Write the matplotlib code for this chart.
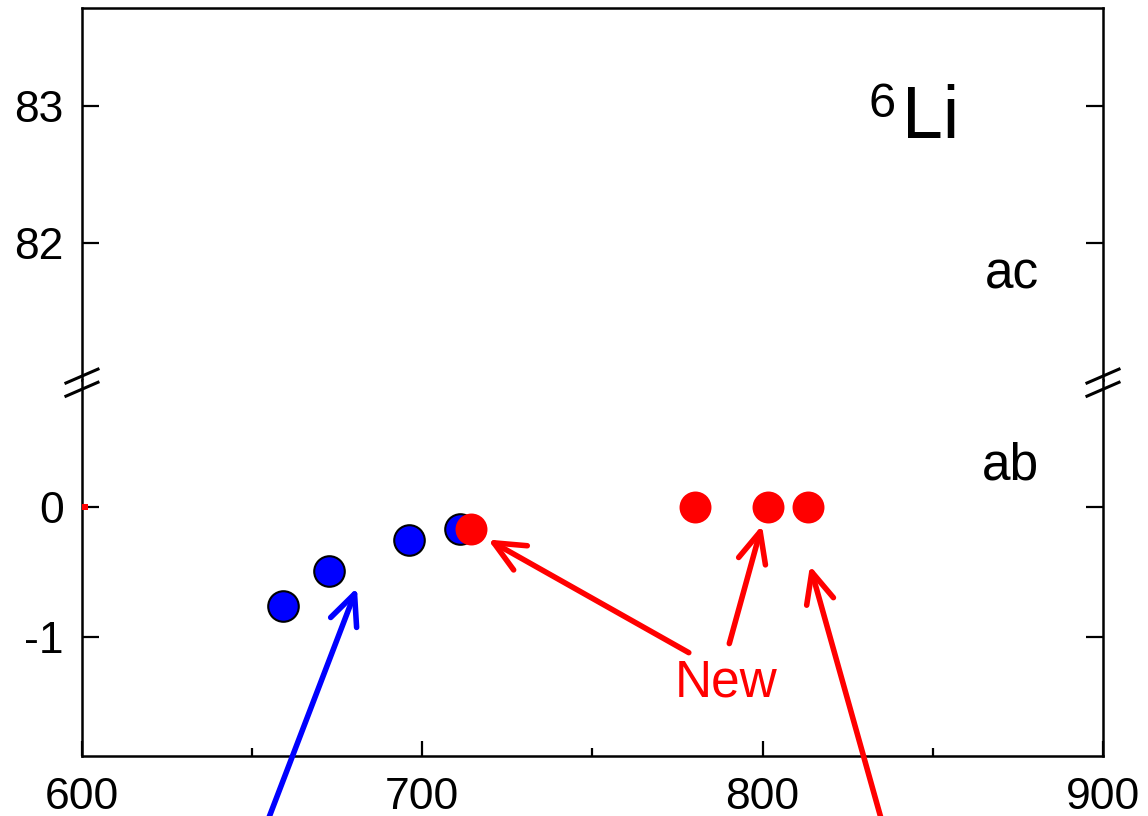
import matplotlib
matplotlib.use("Agg")
import matplotlib.pyplot as plt

plt.rcParams["font.family"] = ["Liberation Sans", "DejaVu Sans"]
plt.rcParams["axes.unicode_minus"] = False

# ab data (lower panel)
blue_x = [659.1, 672.6, 696.1, 711.1]
blue_y = [-0.76, -0.49, -0.25, -0.17]
red_x = [714.3, 780.1, 801.6, 813.3]
red_y = [-0.17, 0.0, 0.0, 0.0]
stray_x = [601.0]
stray_y = [0.0]

# arrows: (tail, head)
blue_arrows = [((653.6, -2.48), (680.8, -0.62))]
red_arrows = [((778.3, -1.12), (719.3, -0.25)),
              ((790.2, -1.05), (799.8, -0.14)),
              ((835.7, -2.48), (813.9, -0.45))]

x_ticks = [600, 700, 800, 900]
x_minor = [650, 750, 850]
low_ticks = [-1, 0]
up_ticks = [82, 83]

fig = plt.figure(figsize=(11.48, 8.16), dpi=100)
ax_up = fig.add_axes([0.0714, 0.534, 0.8894, 0.4559])
ax_lo = fig.add_axes([0.0714, 0.0735, 0.8894, 0.4608])

for ax in (ax_up, ax_lo):
    ax.set_xlim(600, 900)
    for s in ax.spines.values():
        s.set_linewidth(1.8)
    ax.tick_params(axis="y", which="both", direction="in", left=True, right=True,
                   length=12, width=1.6, labelsize=32, pad=13)

ax_up.spines["bottom"].set_visible(False)
ax_lo.spines["top"].set_visible(False)

ax_up.set_ylim(81.0, 83.715)
ax_up.set_yticks(up_ticks)
ax_up.set_xticks([])

ax_lo.set_ylim(-1.915, 0.977)
ax_lo.set_yticks(low_ticks)
ax_lo.set_xticks(x_ticks)
ax_lo.set_xticks(x_minor, minor=True)
ax_lo.tick_params(axis="x", which="major", direction="in", top=False,
                  length=11, width=1.6, labelsize=32, pad=15)
ax_lo.tick_params(axis="x", which="minor", direction="in", top=False,
                  length=6, width=1.6)

ax_lo.plot(blue_x, blue_y, "o", color="blue", markeredgecolor="black",
           markeredgewidth=1.5, markersize=22, zorder=3)
ax_lo.plot(red_x, red_y, "o", color="red", markeredgewidth=0,
           markersize=23, zorder=4)
ax_lo.plot(stray_x, stray_y, "s", color="red", markersize=4,
           markeredgewidth=0, zorder=4, clip_on=False)

for arrows, col in ((blue_arrows, "blue"), (red_arrows, "red")):
    for tail, head in arrows:
        ax_lo.annotate("", xy=head, xytext=tail, annotation_clip=False,
                       arrowprops=dict(arrowstyle="->,head_length=1.1,head_width=0.5",
                                       color=col, lw=4, shrinkA=0, shrinkB=0,
                                       mutation_scale=20))

ax_lo.text(789.2, -1.46, "New", color="red", fontsize=37, ha="center", va="baseline")
ax_lo.text(864.5, 0.208, "ab", fontsize=37, ha="left", va="baseline")
ax_up.text(865.4, 81.67, "ac", fontsize=37, ha="left", va="baseline")
ax_up.text(0.803, 0.651, "Li", fontsize=53, ha="left", va="baseline",
           transform=ax_up.transAxes)
ax_up.text(0.770, 0.707, "6", fontsize=35, ha="left", va="baseline",
           transform=ax_up.transAxes)

# break marks on both spines
for x0 in (0.0, 1.0):
    for dy in (0.0, -0.035):
        ax_lo.plot([x0 - 0.0157, x0 + 0.0157], [0.992 + dy, 1.029 + dy],
                   color="black", lw=2.2, transform=ax_lo.transAxes, clip_on=False)

fig.savefig("out.png", dpi=100)
